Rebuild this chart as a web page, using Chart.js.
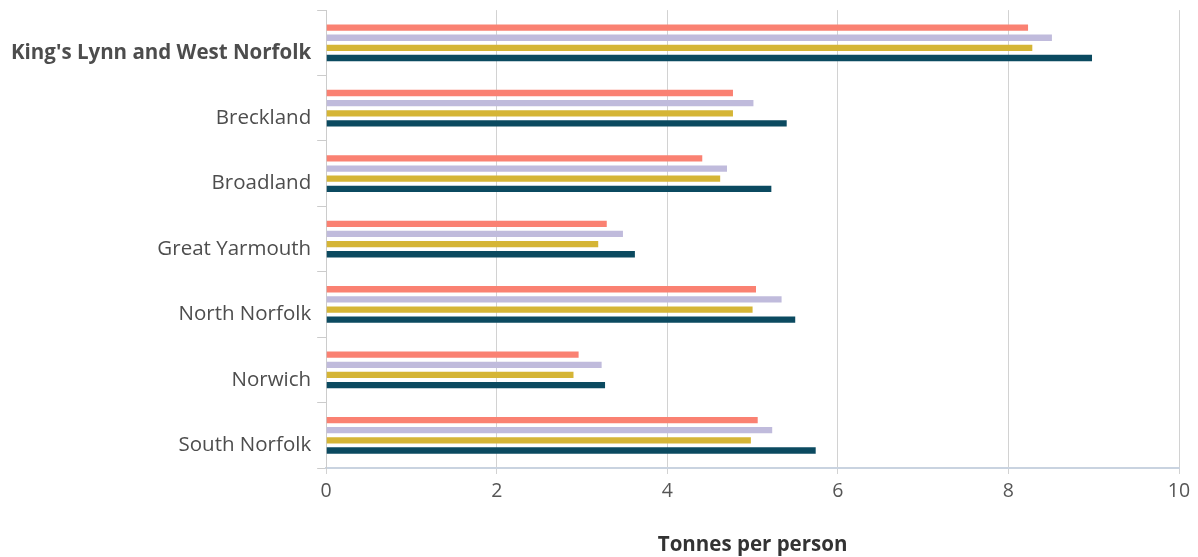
<!DOCTYPE html>
<html>
<head>
<meta charset="utf-8">
<script src="https://cdn.jsdelivr.net/npm/chart.js@4"></script>
<style>
  html, body { margin: 0; padding: 0; background: #fff; }
  #wrap { width: 1198px; height: 557px; }
</style>
</head>
<body>
<div id="wrap"><canvas id="emissionsChart"></canvas></div>
<script>
const districts = ["King's Lynn and West Norfolk", 'Breckland', 'Broadland', 'Great Yarmouth', 'North Norfolk', 'Norwich', 'South Norfolk'];
const seriesNames = ['Series 1', 'Series 2', 'Series 3', 'Series 4'];
const series1 = [8.23, 4.77, 4.41, 3.29, 5.04, 2.96, 5.06];
const series2 = [8.51, 5.01, 4.70, 3.48, 5.34, 3.23, 5.23];
const series3 = [8.28, 4.77, 4.62, 3.19, 5.00, 2.90, 4.98];
const series4 = [8.98, 5.40, 5.22, 3.62, 5.50, 3.27, 5.74];
const xTicks = [0, 2, 4, 6, 8, 10];

document.addEventListener('DOMContentLoaded', function() {
    const colors = ['#fa8172', '#c0bbdc', '#d5b536', '#0b4a60'];
    const values = [series1, series2, series3, series4];

    const ctx = document.getElementById('emissionsChart').getContext('2d');
    new Chart(ctx, {
        type: 'bar',
        data: {
            labels: districts,
            datasets: values.map((v, i) => ({
                label: seriesNames[i],
                data: v,
                backgroundColor: colors[i],
                borderWidth: 0,
                categoryPercentage: 0.62,
                barPercentage: 0.62
            }))
        },
        options: {
            indexAxis: 'y',
            responsive: true,
            maintainAspectRatio: false,
            animation: false,
            layout: { padding: { top: 10, right: 19, left: 5, bottom: 0 } },
            plugins: {
                legend: { display: false },
                tooltip: { enabled: false }
            },
            scales: {
                x: {
                    min: 0,
                    max: 10,
                    afterBuildTicks: axis => { axis.ticks = xTicks.map(v => ({ value: v })); },
                    grid: {
                        color: '#d2d2d2',
                        lineWidth: 1,
                        drawTicks: true,
                        tickLength: 6
                    },
                    border: { color: '#c9d3e0', width: 2 },
                    ticks: {
                        color: '#555',
                        padding: 6,
                        font: { family: 'Open Sans', size: 19.5 }
                    },
                    title: {
                        display: true,
                        text: 'Tonnes per person',
                        color: '#333',
                        padding: { top: 23, bottom: 0 },
                        font: { family: 'Open Sans', size: 20.5, weight: 'bold' }
                    }
                },
                y: {
                    grid: {
                        offset: true,
                        drawOnChartArea: false,
                        color: '#cccccc',
                        tickLength: 9
                    },
                    border: { color: '#cccccc' },
                    ticks: {
                        color: '#4d4d4d',
                        padding: 6,
                        labelOffset: 10,
                        font: c => ({ family: 'Open Sans', size: 20.5, lineHeight: 0.4, weight: c.index === 0 ? 'bold' : 'normal' })
                    }
                }
            }
        }
    });
});
</script>
</body>
</html>
